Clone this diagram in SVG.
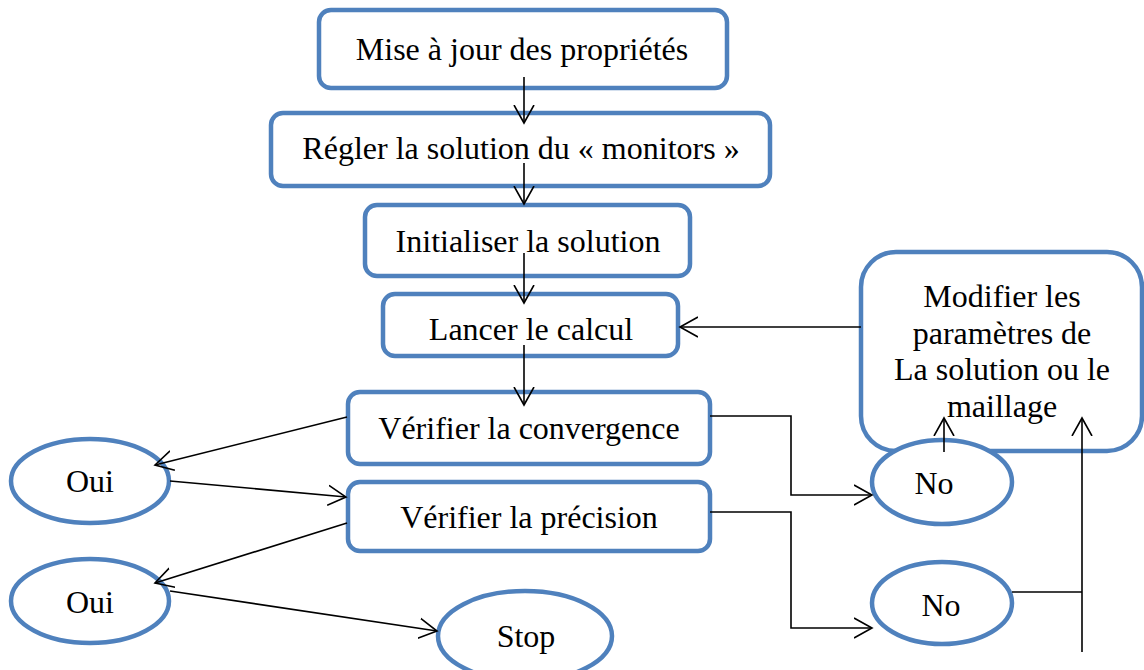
<svg xmlns="http://www.w3.org/2000/svg" width="1144" height="670" viewBox="0 0 1144 670">
<style>
.box{fill:#fff;stroke:#4F81BD;stroke-width:4.5}
.t{font-family:'Liberation Serif','Times New Roman',serif;font-size:32px;fill:#000;text-anchor:middle}
.c{fill:none;stroke:#000;stroke-width:1.6}
</style>
<defs>
<marker id="a" markerUnits="userSpaceOnUse" markerWidth="30" markerHeight="30" refX="18" refY="10" orient="auto" viewBox="0 0 30 20">
<path d="M0,0 L18,10 L0,20" fill="none" stroke="#000" stroke-width="1.6"/>
</marker>
</defs>
<g id="n1"><rect class="box" x="319" y="10" width="408" height="78" rx="12"/><text class="t" x="522" y="60">Mise à jour des propriétés</text></g>
<g id="n2"><rect class="box" x="271" y="113" width="499" height="73" rx="12"/><text class="t" x="521" y="159">Régler la solution du « monitors »</text></g>
<g id="n3"><rect class="box" x="365" y="205" width="325" height="71" rx="12"/><text class="t" x="528" y="252">Initialiser la solution</text></g>
<g id="n4"><rect class="box" x="383" y="294" width="295" height="62" rx="12"/><text class="t" x="531" y="340">Lancer le calcul</text></g>
<g id="n5"><rect class="box" x="348" y="392" width="362" height="72" rx="12"/><text class="t" x="529" y="439">Vérifier la convergence</text></g>
<g id="n6"><rect class="box" x="348" y="482" width="362" height="69" rx="12"/><text class="t" x="529" y="528">Vérifier la précision</text></g>
<g id="n7"><rect class="box" x="861" y="252" width="281" height="199" rx="35"/>
<text class="t" x="1002" y="307">Modifier les</text>
<text class="t" x="1002" y="344">paramètres de</text>
<text class="t" x="1002" y="380">La solution ou le</text>
<text class="t" x="1002" y="417">maillage</text></g>
<g id="n8"><ellipse class="box" cx="90" cy="481" rx="79" ry="42"/><text class="t" x="90" y="492">Oui</text></g>
<g id="n9"><ellipse class="box" cx="90" cy="601" rx="79" ry="42"/><text class="t" x="90" y="613">Oui</text></g>
<g id="n10"><ellipse class="box" cx="525" cy="636" rx="87" ry="45"/><text class="t" x="526" y="647">Stop</text></g>
<g id="n11"><ellipse class="box" cx="942" cy="482" rx="70" ry="42"/><text class="t" x="934" y="494">No</text></g>
<g id="n12"><ellipse class="box" cx="942" cy="603" rx="70" ry="41"/><text class="t" x="941" y="616">No</text></g>
<g id="connectors">
<path class="c" d="M524,77 V123" marker-end="url(#a)"/>
<path class="c" d="M524,163 V204" marker-end="url(#a)"/>
<path class="c" d="M524,253 V303" marker-end="url(#a)"/>
<path class="c" d="M524,345 V405" marker-end="url(#a)"/>
<path class="c" d="M861,327 H680" marker-end="url(#a)"/>
<path class="c" d="M347,417 L155,465" marker-end="url(#a)"/>
<path class="c" d="M170,481 L346,497" marker-end="url(#a)"/>
<path class="c" d="M347,523 L155,583" marker-end="url(#a)"/>
<path class="c" d="M170,591 L437,631" marker-end="url(#a)"/>
<path class="c" d="M710,416 H791 V495 H872" marker-end="url(#a)"/>
<path class="c" d="M710,512 H791 V628 H872" marker-end="url(#a)"/>
<path class="c" d="M944,452 V418" marker-end="url(#a)"/>
<path class="c" d="M1012,592 H1082"/>
<path class="c" d="M1082,652 V418" marker-end="url(#a)"/>
</g>
</svg>
